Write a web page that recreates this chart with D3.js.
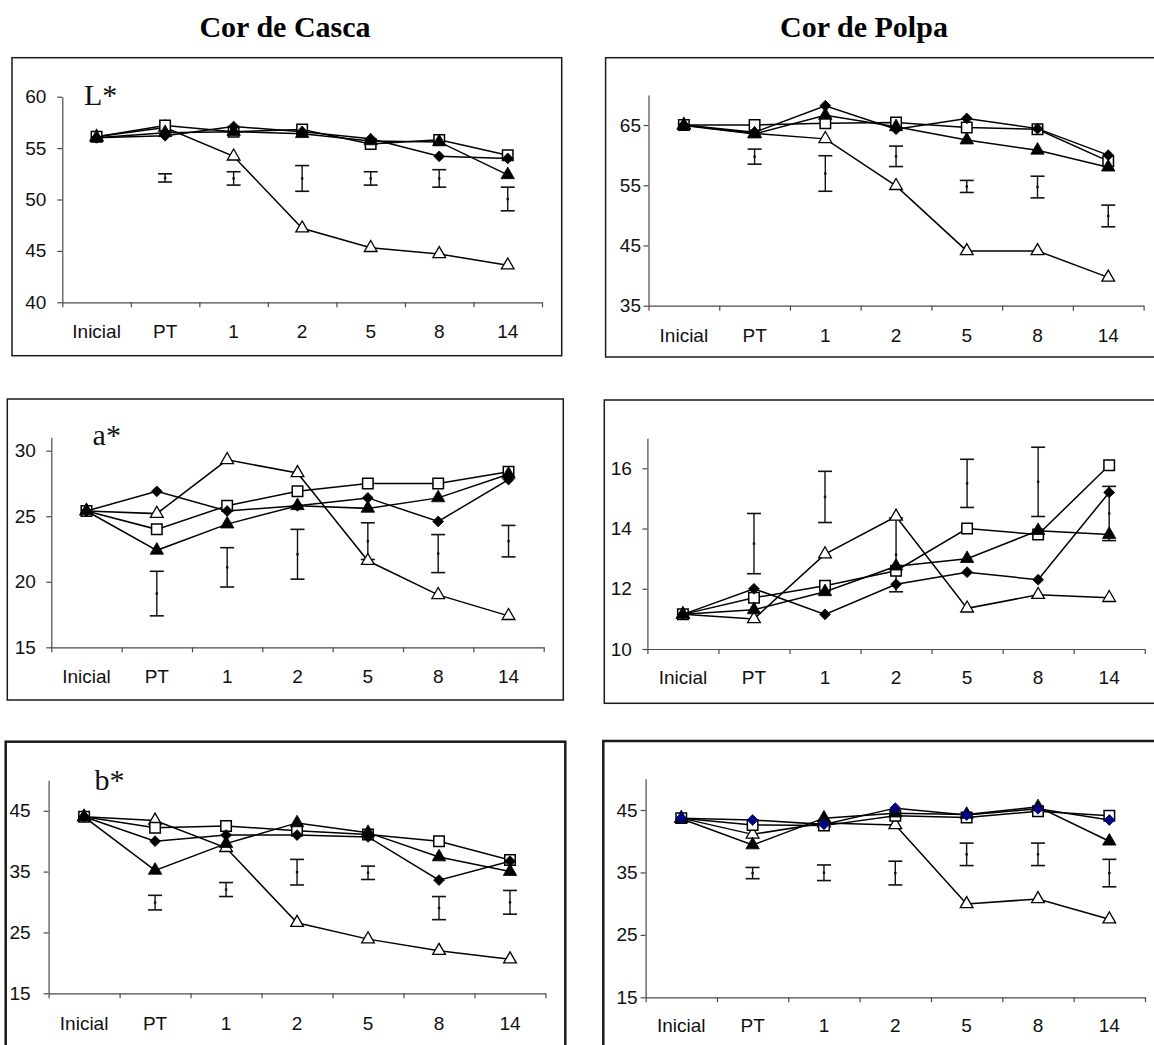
<!DOCTYPE html>
<html><head><meta charset="utf-8">
<script src="https://cdn.jsdelivr.net/npm/d3@7"></script>
<style>body{margin:0;background:#fff;} svg{display:block;}</style>
</head><body>
<svg id="c" width="1154" height="1045"></svg>
<script>
// ---------- DATA ----------
const categorias = ["Inicial","PT","1","2","5","8","14"];

// Cor de Casca – L*
const cascaL_losango   = [56.0, 56.2, 57.1, 56.6, 55.9, 54.2, 54.0];
const cascaL_quadrado  = [56.1, 57.2, 56.6, 56.8, 55.4, 55.8, 54.3];
const cascaL_trianCheio= [56.0, 56.5, 56.6, 56.4, 55.7, 55.6, 52.4];
const cascaL_trianVazio= [56.1, 57.0, 54.2, 47.2, 45.3, 44.7, 43.6];
const cascaL_erroMin   = [null, 51.7, 51.4, 50.8, 51.4, 51.2, 48.9];
const cascaL_erroMax   = [null, 52.5, 52.7, 53.3, 52.7, 52.9, 51.2];
const cascaL_ticks     = [40, 45, 50, 55, 60];

// Cor de Polpa – L*
const polpaL_losango   = [65.0, 63.8, 68.2, 64.3, 66.1, 64.4, 60.0];
const polpaL_quadrado  = [65.0, 65.0, 65.3, 65.4, 64.6, 64.3, 59.0];
const polpaL_trianCheio= [64.9, 63.5, 66.6, 64.7, 62.5, 60.8, 58.0];
const polpaL_trianVazio= [65.0, 63.6, 62.7, 54.9, 44.1, 44.1, 39.7];
const polpaL_erroMin   = [null, 58.5, 54.0, 58.1, 53.8, 52.9, 48.1];
const polpaL_erroMax   = [null, 61.0, 59.9, 61.5, 55.8, 56.5, 51.7];
const polpaL_ticks     = [35, 45, 55, 65];

// Cor de Casca – a*
const cascaA_losango   = [25.4, 26.9, 25.4, 25.8, 26.4, 24.6, 27.8];
const cascaA_quadrado  = [25.4, 24.0, 25.8, 26.9, 27.5, 27.5, 28.4];
const cascaA_trianCheio= [25.4, 22.4, 24.4, 25.8, 25.6, 26.4, 28.2];
const cascaA_trianVazio= [25.4, 25.2, 29.3, 28.3, 21.6, 19.0, 17.4];
const cascaA_erroMin   = [null, 17.4, 19.6, 20.2, 21.7, 20.7, 21.9];
const cascaA_erroMax   = [null, 20.8, 22.6, 24.0, 24.5, 23.6, 24.3];
const cascaA_ticks     = [15, 20, 25, 30];

// Cor de Polpa – a*
const polpaA_losango   = [11.15, 12.0, 11.15, 12.15, 12.55, 12.3, 15.2];
const polpaA_quadrado  = [11.15, 11.7, 12.1, 12.6, 14.0, 13.8, 16.1];
const polpaA_trianCheio= [11.15, 11.3, 11.9, 12.75, 13.0, 13.93, 13.8];
const polpaA_trianVazio= [11.15, 11.0, 13.15, 14.4, 11.35, 11.8, 11.7];
const polpaA_erroMin   = [null, 12.5, 14.2, 11.9, 14.7, 14.4, 13.6];
const polpaA_erroMax   = [null, 14.5, 15.9, 14.35, 16.3, 16.7, 15.4];
const polpaA_ticks     = [10, 12, 14, 16];

// Cor de Casca – b*
const cascaB_losango   = [44.0, 40.0, 41.0, 41.0, 40.7, 33.6, 36.7];
const cascaB_quadrado  = [44.0, 42.2, 42.5, 41.7, 41.1, 40.0, 36.9];
const cascaB_trianCheio= [44.0, 35.2, 39.6, 43.0, 41.4, 37.4, 35.0];
const cascaB_trianVazio= [44.0, 43.4, 38.9, 26.6, 23.9, 22.0, 20.6];
const cascaB_erroMin   = [null, 28.7, 30.9, 32.8, 33.7, 27.1, 28.0];
const cascaB_erroMax   = [null, 31.1, 33.2, 37.0, 35.9, 30.9, 31.9];
const cascaB_ticks     = [15, 25, 35, 45];

// Cor de Polpa – b*
const polpaB_losango   = [43.7, 43.4, 42.7, 45.3, 44.2, 45.2, 43.4];
const polpaB_quadrado  = [43.7, 42.6, 42.5, 44.1, 43.8, 44.8, 44.1];
const polpaB_trianCheio= [43.6, 39.4, 43.7, 44.5, 44.3, 45.5, 40.0];
const polpaB_trianVazio= [43.7, 41.1, 42.9, 42.6, 29.95, 30.75, 27.5];
const polpaB_erroMin   = [null, 34.0, 33.7, 33.0, 36.1, 36.1, 32.7];
const polpaB_erroMax   = [null, 35.8, 36.2, 36.8, 39.7, 39.7, 37.1];
const polpaB_ticks     = [15, 25, 35, 45];

const titulos = ["Cor de Casca", "Cor de Polpa"];

// ---------- LAYOUT ----------
const svg = d3.select("#c");
const SANS = "'Liberation Sans', Arial, sans-serif";
const SERIF = "'Liberation Serif', 'Times New Roman', serif";

svg.append("text").attr("x", 285).attr("y", 36.5).attr("text-anchor","middle")
  .attr("font-family", SERIF).attr("font-weight","bold").attr("font-size", 30).text(titulos[0]);
svg.append("text").attr("x", 864).attr("y", 36.5).attr("text-anchor","middle")
  .attr("font-family", SERIF).attr("font-weight","bold").attr("font-size", 30).text(titulos[1]);

const paineis = [
  { series:[cascaL_trianVazio,cascaL_quadrado,cascaL_trianCheio,cascaL_losango], emin:cascaL_erroMin, emax:cascaL_erroMax,
    ticks:cascaL_ticks, domain:[40,60], yr:[302.3,96.7], xr:[62.3,542], frame:[12,57.7,561.7,355.7], fw:1.5,
    yPad:11, xPad:22.7, label:"L*", lx:84, ly:105, dcol:"#000" },
  { series:[polpaL_trianVazio,polpaL_quadrado,polpaL_trianCheio,polpaL_losango], emin:polpaL_erroMin, emax:polpaL_erroMax,
    ticks:polpaL_ticks, domain:[35,70], yr:[305.7,94.9], xr:[648.5,1143.6], frame:[605.6,57.7,1170,357], fw:1.5,
    yPad:2.5, xPad:22.6, label:null, dcol:"#000" },
  { series:[cascaA_trianVazio,cascaA_quadrado,cascaA_trianCheio,cascaA_losango], emin:cascaA_erroMin, emax:cascaA_erroMax,
    ticks:cascaA_ticks, domain:[15,31], yr:[647.3,437.6], xr:[51.3,543.7], frame:[7.3,399,563.3,700], fw:1.5,
    yPad:10.5, xPad:22.7, label:"a*", lx:92.6, ly:445, dcol:"#000" },
  { series:[polpaA_trianVazio,polpaA_quadrado,polpaA_trianCheio,polpaA_losango], emin:polpaA_erroMin, emax:polpaA_erroMax,
    ticks:polpaA_ticks, domain:[10,17], yr:[649,438.2], xr:[647.4,1144.7], frame:[604.3,400,1170,703.3], fw:1.5,
    yPad:10.5, xPad:21.5, label:null, dcol:"#000" },
  { series:[cascaB_trianVazio,cascaB_quadrado,cascaB_trianCheio,cascaB_losango], emin:cascaB_erroMin, emax:cascaB_erroMax,
    ticks:cascaB_ticks, domain:[15,50], yr:[993.3,780.3], xr:[48.6,545.5], frame:[5.7,741.7,565.3,1080], fw:2.5,
    yPad:13, xPad:23, label:"b*", lx:94.4, ly:790, dcol:"#000" },
  { series:[polpaB_trianVazio,polpaB_quadrado,polpaB_trianCheio,polpaB_losango], emin:polpaB_erroMin, emax:polpaB_erroMax,
    ticks:polpaB_ticks, domain:[15,50], yr:[997.3,778.8], xr:[645.6,1145], frame:[603.3,741,1170,1080], fw:2.5,
    yPad:3, xPad:21.5, label:null, dcol:"#000080" }
];

// marker kinds in draw order: open triangle, open square, filled triangle, filled diamond
const marcadores = [
  { sym: d3.symbolTriangle, size: 70, fill:"#fff", stroke:"#000", sw:1.3, rot:0 },
  { sym: d3.symbolSquare,   size: 110, fill:"#fff", stroke:"#000", sw:1.5, rot:0 },
  { sym: d3.symbolTriangle, size: 78, fill:"#000", stroke:"#000", sw:0.8, rot:0 },
  { sym: d3.symbolSquare,   size: 58, fill:null,  stroke:null,   sw:0.8, rot:45 }
];

paineis.forEach(p => {
  const g = svg.append("g");
  const [l,t,r,b] = p.frame;
  g.append("rect").attr("x", l).attr("y", t).attr("width", r-l).attr("height", b-t)
    .attr("fill","none").attr("stroke","#1a1a1a").attr("stroke-width", p.fw);

  const x = d3.scaleBand().domain(categorias).range(p.xr);
  const xb = d3.scaleLinear().domain([0, categorias.length]).range(p.xr);
  const y = d3.scaleLinear().domain(p.domain).range(p.yr);

  // y axis
  const ya = g.append("g").attr("transform", `translate(${p.xr[0]},0)`)
    .call(d3.axisLeft(y).tickValues(p.ticks).tickFormat(d3.format("d")).tickSize(5).tickSizeOuter(0).tickPadding(p.yPad));
  // x axis boundary ticks
  const xa = g.append("g").attr("transform", `translate(0,${p.yr[0]})`)
    .call(d3.axisBottom(xb).tickValues(d3.range(categorias.length+1)).tickFormat("").tickSize(5).tickSizeOuter(0));
  // x labels
  const xl = g.append("g").attr("transform", `translate(0,${p.yr[0]})`)
    .call(d3.axisBottom(x).tickSize(0).tickPadding(p.xPad));
  xl.select(".domain").remove();
  [ya, xa, xl].forEach(a => {
    a.selectAll("path.domain").attr("stroke","#4a4a4a").attr("stroke-width",1.2);
    a.selectAll(".tick line").attr("stroke","#4a4a4a").attr("stroke-width",1.2);
    a.selectAll("text").attr("font-family", SANS).attr("font-size", 19).attr("fill","#111");
  });

  // error bars
  const eb = g.append("g");
  categorias.forEach((c, i) => {
    if (p.emin[i] == null) return;
    const cx = x(c) + x.bandwidth()/2;
    const y1 = y(p.emin[i]), y2 = y(p.emax[i]);
    eb.append("line").attr("x1",cx).attr("x2",cx).attr("y1",y1).attr("y2",y2).attr("stroke","#111").attr("stroke-width",1.4);
    [y1,y2].forEach(yy => eb.append("line").attr("x1",cx-7).attr("x2",cx+7).attr("y1",yy).attr("y2",yy)
      .attr("stroke","#111").attr("stroke-width",1.6));
    const ym = y((p.emin[i]+p.emax[i])/2);
    eb.append("rect").attr("x",cx-1.2).attr("y",ym-1.2).attr("width",2.4).attr("height",2.4).attr("fill","#111");
  });

  // series
  const line = d3.line().x((d,i) => x(categorias[i]) + x.bandwidth()/2).y(d => y(d));
  p.series.forEach((vals, si) => {
    const m = marcadores[si];
    g.append("path").datum(vals).attr("d", line).attr("fill","none").attr("stroke","#000").attr("stroke-width",1.5);
    const fill = m.fill === null ? p.dcol : m.fill;
    const stroke = m.stroke === null ? p.dcol : m.stroke;
    g.selectAll(null).data(vals).enter().append("path")
      .attr("d", d3.symbol().type(m.sym).size(m.size)())
      .attr("transform", (d,i) => `translate(${x(categorias[i]) + x.bandwidth()/2},${y(d)}) rotate(${m.rot})`)
      .attr("fill", fill).attr("stroke", stroke).attr("stroke-width", m.sw);
  });

  if (p.label) {
    g.append("text").attr("x", p.lx).attr("y", p.ly).attr("font-family", SERIF).attr("font-size", 30)
      .attr("fill","#111").text(p.label);
  }
});
</script>
</body></html>
